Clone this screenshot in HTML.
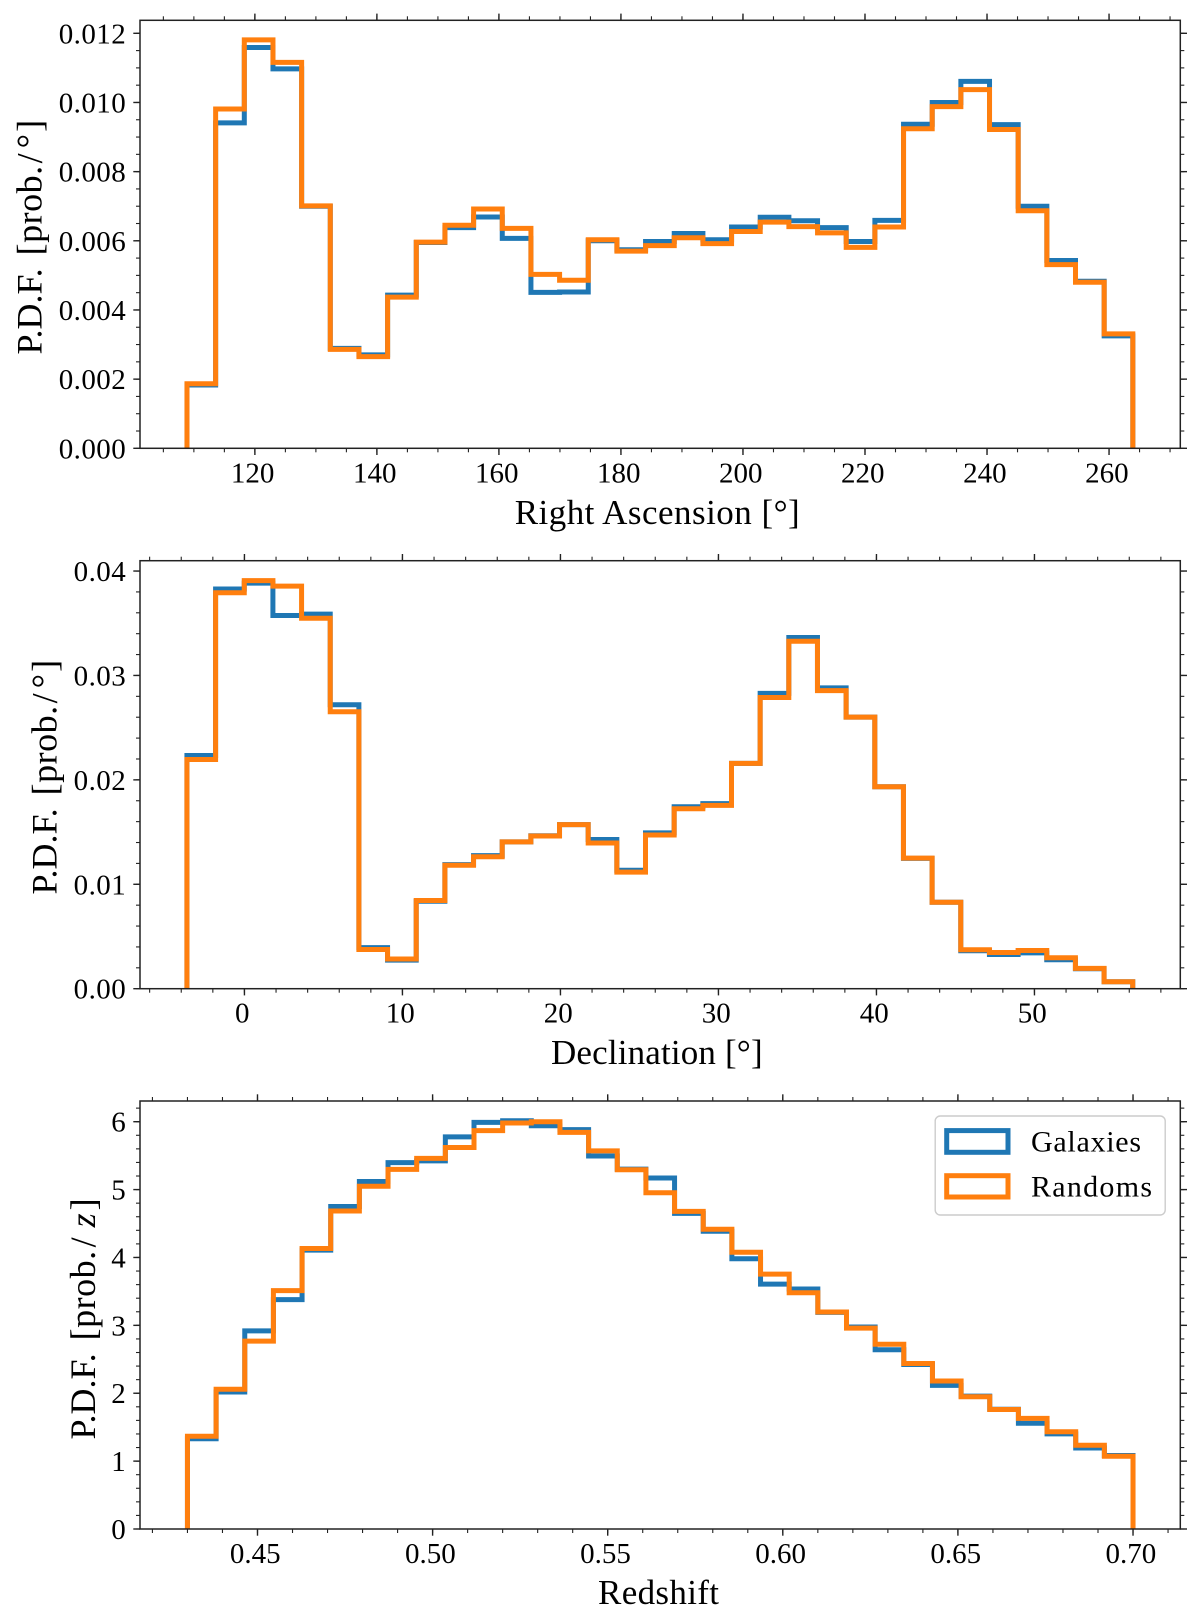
<!DOCTYPE html>
<html lang="en">
<head>
<meta charset="utf-8">
<title>Galaxy and random catalogue distributions</title>
<style>
html,body{margin:0;padding:0;background:#fff;width:1200px;height:1618px;overflow:hidden}
svg{display:block;filter:blur(0.35px)}
text{font-family:"Liberation Serif",serif;fill:#000}
</style>
</head>
<body>
<svg id="figure" xmlns="http://www.w3.org/2000/svg" width="1200" height="1618" viewBox="0 0 1200 1618">
  <rect x="0" y="0" width="1200" height="1618" fill="#ffffff"/>
  <defs>
    <clipPath id="clip-ra"><rect x="140" y="20.3" width="1040.3" height="428"/></clipPath>
    <clipPath id="clip-dec"><rect x="140" y="560.7" width="1040.3" height="428"/></clipPath>
    <clipPath id="clip-z"><rect x="140" y="1101" width="1040.3" height="428"/></clipPath>
  </defs>

  <g id="panel-ra"></g>
  <g id="panel-dec"></g>
  <g id="panel-z"></g>

  <text x="514.7" y="524" font-size="35" textLength="285" lengthAdjust="spacing">Right Ascension [°]</text>
  <text x="551" y="1064" font-size="35" textLength="211.6" lengthAdjust="spacing">Declination [°]</text>
  <text x="598" y="1604" font-size="35" textLength="121" lengthAdjust="spacing">Redshift</text>

  <text transform="translate(41.3 354.5) rotate(-90)" font-size="36">P.D.F.<tspan dx="13" letter-spacing="0.5">[prob.</tspan><tspan dx="2">/</tspan><tspan dx="5">°</tspan><tspan dx="2">]</tspan></text>
  <text transform="translate(56.6 894.5) rotate(-90)" font-size="36">P.D.F.<tspan dx="13" letter-spacing="0.5">[prob.</tspan><tspan dx="2">/</tspan><tspan dx="5">°</tspan><tspan dx="2">]</tspan></text>
  <text transform="translate(95 1439.5) rotate(-90)" font-size="36">P.D.F.<tspan dx="13" letter-spacing="0.5">[prob.</tspan><tspan dx="3">/</tspan><tspan dx="10" font-style="italic">z</tspan><tspan dx="3">]</tspan></text>

  <g>
    <rect x="935.2" y="1116" width="230" height="99" rx="5" ry="5" fill="#ffffff" fill-opacity="0.8" stroke="#cccccc" stroke-width="1.4"/>
    <rect x="946.7" y="1130.6" width="61.3" height="21.7" fill="none" stroke="#1f77b4" stroke-width="5"/>
    <text x="1031" y="1151.6" font-size="30" textLength="110" lengthAdjust="spacing">Galaxies</text>
    <rect x="946.7" y="1175.7" width="61.3" height="21.3" fill="none" stroke="#ff7f0e" stroke-width="5"/>
    <text x="1031" y="1196.4" font-size="30" textLength="121" lengthAdjust="spacing">Randoms</text>
  </g>
</svg>

<script>
// Right ascension panel data
const raBinRange = [108.87, 263.9];
const raGalaxies = [0.00183,0.00941,0.01159,0.01097,0.00700,0.00289,0.00270,0.00443,0.00595,0.00638,0.00669,0.00607,0.00451,0.00452,0.00600,0.00574,0.00598,0.00621,0.00603,0.00640,0.00668,0.00658,0.00638,0.00598,0.00659,0.00937,0.01000,0.01061,0.00936,0.00700,0.00543,0.00483,0.00325];
const raRandoms = [0.001865,0.00981,0.01181,0.01116,0.00701,0.00286,0.00265,0.00437,0.00596,0.00645,0.00692,0.00636,0.00503,0.00486,0.00603,0.00570,0.00586,0.00609,0.00592,0.00627,0.00654,0.00641,0.00623,0.00581,0.00640,0.00924,0.00988,0.01037,0.00922,0.00687,0.00531,0.00480,0.00331];
const raXTicks = [120,140,160,180,200,220,240,260];
const raXTickLabels = ["120","140","160","180","200","220","240","260"];
const raYTicks = [0,0.002,0.004,0.006,0.008,0.010,0.012];
const raYTickLabels = ["0.000","0.002","0.004","0.006","0.008","0.010","0.012"];

// Declination panel data
const decBinRange = [-3.64, 56.22];
const decGalaxies = [0.02234,0.03828,0.03884,0.03574,0.03587,0.02720,0.00393,0.00274,0.00838,0.01188,0.01274,0.01406,0.01465,0.01571,0.01429,0.01135,0.01492,0.01743,0.01772,0.02158,0.02828,0.03363,0.02881,0.02601,0.01934,0.01248,0.00828,0.00363,0.00327,0.00343,0.00277,0.00191,0.00066];
const decRandoms = [0.02195,0.03792,0.03908,0.03855,0.03548,0.02653,0.00376,0.00284,0.00845,0.01182,0.01264,0.01406,0.01462,0.01571,0.01396,0.01116,0.01472,0.01723,0.01756,0.02158,0.02789,0.03327,0.02855,0.02601,0.01934,0.01251,0.00828,0.00373,0.00347,0.00366,0.00297,0.00195,0.00066];
const decXTicks = [0,10,20,30,40,50];
const decXTickLabels = ["0","10","20","30","40","50"];
const decYTicks = [0,0.01,0.02,0.03,0.04];
const decYTickLabels = ["0.00","0.01","0.02","0.03","0.04"];

// Redshift panel data
const zBinRange = [0.43, 0.70];
const zGalaxies = [1.33,2.018,2.919,3.379,4.108,4.75,5.12,5.398,5.423,5.777,5.99,6.015,5.94,5.883,5.494,5.302,5.17,4.649,4.386,3.981,3.607,3.536,3.192,2.975,2.641,2.423,2.115,1.958,1.765,1.558,1.401,1.194,1.083];
const zRandoms = [1.366,2.059,2.767,3.511,4.133,4.684,5.049,5.297,5.459,5.62,5.868,5.98,6.0,5.843,5.57,5.292,4.953,4.679,4.416,4.077,3.754,3.48,3.197,2.959,2.722,2.438,2.18,1.948,1.76,1.629,1.432,1.234,1.072];
const zXTicks = [0.45,0.50,0.55,0.60,0.65,0.70];
const zXTickLabels = ["0.45","0.50","0.55","0.60","0.65","0.70"];
const zYTicks = [0,1,2,3,4,5,6];
const zYTickLabels = ["0","1","2","3","4","5","6"];

const NS = 'http://www.w3.org/2000/svg';
const BLUE = '#1f77b4';
const ORANGE = '#ff7f0e';
const INK = '#222222';

function make(parent, tag, attrs) {
  const el = document.createElementNS(NS, tag);
  for (const k in attrs) el.setAttribute(k, attrs[k]);
  parent.appendChild(el);
  return el;
}

function drawPanel(cfg) {
  const g = document.getElementById(cfg.id);
  const L = 140, R = 1180.3, T = cfg.top, B = cfg.bottom;
  const x = v => L + (v - cfg.xlim[0]) / (cfg.xlim[1] - cfg.xlim[0]) * (R - L);
  const y = v => B - (v - cfg.ylim[0]) / (cfg.ylim[1] - cfg.ylim[0]) * (B - T);

  // histogram outlines
  [[cfg.galaxies, BLUE, 'galaxies'], [cfg.randoms, ORANGE, 'randoms']].forEach(function (s) {
    const n = s[0].length;
    const w = (cfg.bins[1] - cfg.bins[0]) / n;
    let pts = x(cfg.bins[0]).toFixed(2) + ',' + y(0).toFixed(2);
    s[0].forEach(function (v, i) {
      const x0 = x(cfg.bins[0] + i * w).toFixed(2);
      const x1 = x(cfg.bins[0] + (i + 1) * w).toFixed(2);
      const yy = y(v).toFixed(2);
      pts += ' ' + x0 + ',' + yy + ' ' + x1 + ',' + yy;
    });
    pts += ' ' + x(cfg.bins[1]).toFixed(2) + ',' + y(0).toFixed(2);
    const line = make(g, 'polyline', {points: pts, fill: 'none', stroke: s[1], 'stroke-width': 5, 'stroke-linejoin': 'miter', 'clip-path': 'url(#' + cfg.clip + ')'});
    
    
  });

  // minor ticks on all four sides
  const minorGroup = make(g, 'g', {stroke: INK, 'stroke-width': 1.1});
  
  
  const mx0 = Math.ceil(cfg.xlim[0] / cfg.xMinor - 1e-6), mx1 = Math.floor(cfg.xlim[1] / cfg.xMinor + 1e-6);
  for (let i = mx0; i <= mx1; i++) {
    const p = x(i * cfg.xMinor);
    make(minorGroup, 'line', {x1: p, x2: p, y1: B, y2: B + 4});
    make(minorGroup, 'line', {x1: p, x2: p, y1: T, y2: T - 4});
  }
  const my1 = Math.floor(cfg.ylim[1] / cfg.yMinor + 1e-6);
  for (let i = 0; i <= my1; i++) {
    const p = y(i * cfg.yMinor);
    make(minorGroup, 'line', {x1: L, x2: L - 4, y1: p, y2: p});
    make(minorGroup, 'line', {x1: R, x2: R + 4, y1: p, y2: p});
  }

  // major x ticks and labels
  cfg.xTicks.forEach(function (v, i) {
    const p = x(v);
    const group = make(g, 'g', {});
    
    
    make(group, 'line', {x1: p, x2: p, y1: B, y2: B + 6.7, stroke: INK, 'stroke-width': 1.4});
    make(group, 'line', {x1: p, x2: p, y1: T, y2: T - 6.7, stroke: INK, 'stroke-width': 1.4});
    const t = make(group, 'text', {x: p - 2.2, y: B + 34, 'font-size': 29, 'text-anchor': 'middle'});
    t.textContent = cfg.xLabels[i];
  });

  // major y ticks and labels
  cfg.yTicks.forEach(function (v, i) {
    const p = y(v);
    const group = make(g, 'g', {});
    
    
    make(group, 'line', {x1: L, x2: L - 6.7, y1: p, y2: p, stroke: INK, 'stroke-width': 1.4});
    make(group, 'line', {x1: R, x2: R + 6.7, y1: p, y2: p, stroke: INK, 'stroke-width': 1.4});
    const t = make(group, 'text', {x: 126.2, y: p + 10, 'font-size': 29, 'text-anchor': 'end', 'letter-spacing': 0.45});
    t.textContent = cfg.yLabels[i];
  });

  // frame
  const frame = make(g, 'rect', {x: L, y: T, width: R - L, height: B - T, fill: 'none', stroke: INK, 'stroke-width': 1.5});
  
  
}

drawPanel({
  id: 'panel-ra', clip: 'clip-ra', top: 20.3, bottom: 448.3,
  xlim: [101.17, 271.68], ylim: [0, 0.012376], bins: raBinRange,
  galaxies: raGalaxies, randoms: raRandoms,
  xTicks: raXTicks, xLabels: raXTickLabels, yTicks: raYTicks, yLabels: raYTickLabels,
  xMinor: 5, yMinor: 0.0005
});
drawPanel({
  id: 'panel-dec', clip: 'clip-dec', top: 560.7, bottom: 988.7,
  xlim: [-6.61, 59.23], ylim: [0, 0.04099], bins: decBinRange,
  galaxies: decGalaxies, randoms: decRandoms,
  xTicks: decXTicks, xLabels: decXTickLabels, yTicks: decYTicks, yLabels: decYTickLabels,
  xMinor: 2, yMinor: 0.002
});
drawPanel({
  id: 'panel-z', clip: 'clip-z', top: 1101, bottom: 1529,
  xlim: [0.41645, 0.7135], ylim: [0, 6.305], bins: zBinRange,
  galaxies: zGalaxies, randoms: zRandoms,
  xTicks: zXTicks, xLabels: zXTickLabels, yTicks: zYTicks, yLabels: zYTickLabels,
  xMinor: 0.01, yMinor: 0.2
});
</script>
</body>
</html>
